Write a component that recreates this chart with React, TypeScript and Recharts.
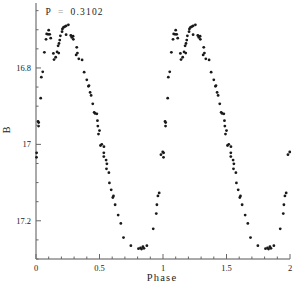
import { ScatterChart, Scatter, XAxis, YAxis } from 'recharts';

// phase-folded photometry, phase 0..1 (plotted twice)
const phase = [
    0.004, 0.005, 0.016, 0.020, 0.021, 0.037, 0.042, 0.053, 0.066, 0.079,
    0.084, 0.095, 0.100, 0.108, 0.116, 0.137, 0.142, 0.155, 0.166, 0.174,
    0.179, 0.181, 0.187, 0.192, 0.205, 0.208, 0.216, 0.226, 0.237, 0.237,
    0.255, 0.274, 0.282, 0.292, 0.294, 0.316, 0.321, 0.326, 0.337, 0.363,
    0.379, 0.400, 0.413, 0.417, 0.426, 0.434, 0.447, 0.458, 0.465, 0.479,
    0.484, 0.487, 0.492, 0.500, 0.508, 0.518, 0.535, 0.534, 0.534, 0.552,
    0.555, 0.558, 0.574, 0.578, 0.592, 0.605, 0.610, 0.623, 0.647, 0.668,
    0.689, 0.747, 0.807, 0.823, 0.831, 0.842, 0.850, 0.873, 0.923, 0.947,
    0.952, 0.960, 0.970, 0.984, 0.998,
];
const bMag = [
    17.034, 17.022, 16.940, 16.952, 16.943, 16.879, 16.824, 16.810, 16.759, 16.725,
    16.711, 16.712, 16.701, 16.712, 16.722, 16.762, 16.778, 16.772, 16.758, 16.742,
    16.761, 16.736, 16.727, 16.716, 16.705, 16.698, 16.694, 16.692, 16.690, 16.713,
    16.687, 16.715, 16.720, 16.717, 16.725, 16.766, 16.746, 16.761, 16.776, 16.779,
    16.811, 16.831, 16.848, 16.846, 16.864, 16.872, 16.894, 16.916, 16.919, 16.920,
    16.938, 16.952, 16.973, 16.964, 17.003, 17.000, 17.006, 17.022, 17.032, 17.041,
    17.064, 17.051, 17.074, 17.101, 17.119, 17.139, 17.135, 17.158, 17.185, 17.207,
    17.244, 17.265, 17.273, 17.271, 17.274, 17.268, 17.272, 17.265, 17.221, 17.181,
    17.158, 17.135, 17.127, 17.027, 17.020,
];

const xMajor = [0, 0.5, 1, 1.5, 2];
const xMinor = [0.1, 0.2, 0.3, 0.4, 0.6, 0.7, 0.8, 0.9, 1.1, 1.2, 1.3, 1.4, 1.6, 1.7, 1.8, 1.9];
const yMajor = [16.8, 17, 17.2];
const yMinor = [16.65, 16.7, 16.75, 16.85, 16.9, 16.95, 17.05, 17.1, 17.15, 17.25, 17.3];
const xLabels: Record<string, string> = { '0': '0', '0.5': '0.5', '1': '1', '1.5': '1.5', '2': '2' };
const yLabels: Record<string, string> = { '16.8': '16.8', '17': '17', '17.2': '17.2' };

const period = 'P = 0.3102';

// each point shown at phase and phase + 1
const points = [
    ...phase.map((p, i) => ({ phase: p, b: bMag[i] })),
    ...phase.map((p, i) => ({ phase: p + 1, b: bMag[i] })),
];

const font = '"Liberation Serif", serif';
const tickColor = '#666';

function makeTick(side: 'bottom' | 'top' | 'left' | 'right', majors: number[], labels?: Record<string, string>) {
    return (props: any) => {
        const { x, y, payload } = props;
        const v = payload.value;
        const major = majors.some(m => Math.abs(m - v) < 1e-6);
        const len = major ? 5 : 2.5;
        let x2 = x, y2 = y;
        if (side === 'bottom') y2 = y - len;
        if (side === 'top') y2 = y + len;
        if (side === 'left') x2 = x + len;
        if (side === 'right') x2 = x - len;
        const label = labels && major ? labels[String(v)] : undefined;
        return (
            <g>
                <line x1={x} y1={y} x2={x2} y2={y2} stroke={tickColor} strokeWidth={1} />
                {label && side === 'bottom' && (
                    <text x={x} y={y + 12} textAnchor="middle" fontSize={8.5} fontFamily={font} fill="#222">{label}</text>
                )}
                {label && side === 'left' && (
                    <text x={x - 5} y={y + 3} textAnchor="end" fontSize={8.5} fontFamily={font} fill="#222">{label}</text>
                )}
            </g>
        );
    };
}

const Dot = (props: any) => <circle cx={props.cx} cy={props.cy} r={1.4} fill="#1a1a1a" />;

export default function App() {
    const xTicks = [...xMajor, ...xMinor].sort((a, b) => a - b);
    const yTicks = [...yMajor, ...yMinor].sort((a, b) => a - b);
    return (
        <div style={{ position: 'absolute', left: 0, top: 0, width: 300, height: 285, background: '#fff' }}>
            <ScatterChart width={300} height={285} margin={{ top: 3, right: 10, bottom: 0, left: 0 }}>
                <XAxis dataKey="phase" type="number" domain={[0, 2]} ticks={xTicks} interval={0}
                    height={26} tickSize={0} tickMargin={0} tickLine={false}
                    axisLine={{ stroke: '#aaa', strokeWidth: 2 }} tick={makeTick('bottom', xMajor, xLabels)} />
                <XAxis xAxisId="top" orientation="top" type="number" domain={[0, 2]} ticks={xTicks} interval={0}
                    height={0} tickSize={0} tickMargin={0} tickLine={false}
                    axisLine={{ stroke: '#444', strokeWidth: 1 }} tick={makeTick('top', xMajor)} />
                <YAxis dataKey="b" type="number" domain={[16.63, 17.3]} reversed ticks={yTicks} interval={0}
                    width={36} tickSize={0} tickMargin={0} tickLine={false} allowDataOverflow
                    axisLine={{ stroke: '#aaa', strokeWidth: 2 }} tick={makeTick('left', yMajor, yLabels)} />
                <YAxis yAxisId="right" orientation="right" type="number" domain={[16.63, 17.3]} reversed ticks={yTicks} interval={0}
                    width={0} tickSize={0} tickMargin={0} tickLine={false} allowDataOverflow
                    axisLine={{ stroke: '#444', strokeWidth: 1 }} tick={makeTick('right', yMajor)} />
                <Scatter data={points} shape={Dot} isAnimationActive={false} />
                <text x={45.5} y={15} fontSize={9.5} fontFamily={font} fill="#222">P</text>
                <text x={58} y={15} fontSize={9.5} fontFamily={font} fill="#999">=</text>
                <text x={70.5} y={15} fontSize={9.5} fontFamily={font} fill="#222" letterSpacing={1.2}>{period.split('= ')[1]}</text>
                <text x={6} y={130} transform="rotate(-90 6 130)" textAnchor="middle" dominantBaseline="central"
                    fontSize={10} fontFamily={font} fill="#222">B</text>
                <text x={162} y={281} textAnchor="middle" fontSize={10.5} fontFamily={font} fill="#222" letterSpacing={1.2}>Phase</text>
            </ScatterChart>
        </div>
    );
}
